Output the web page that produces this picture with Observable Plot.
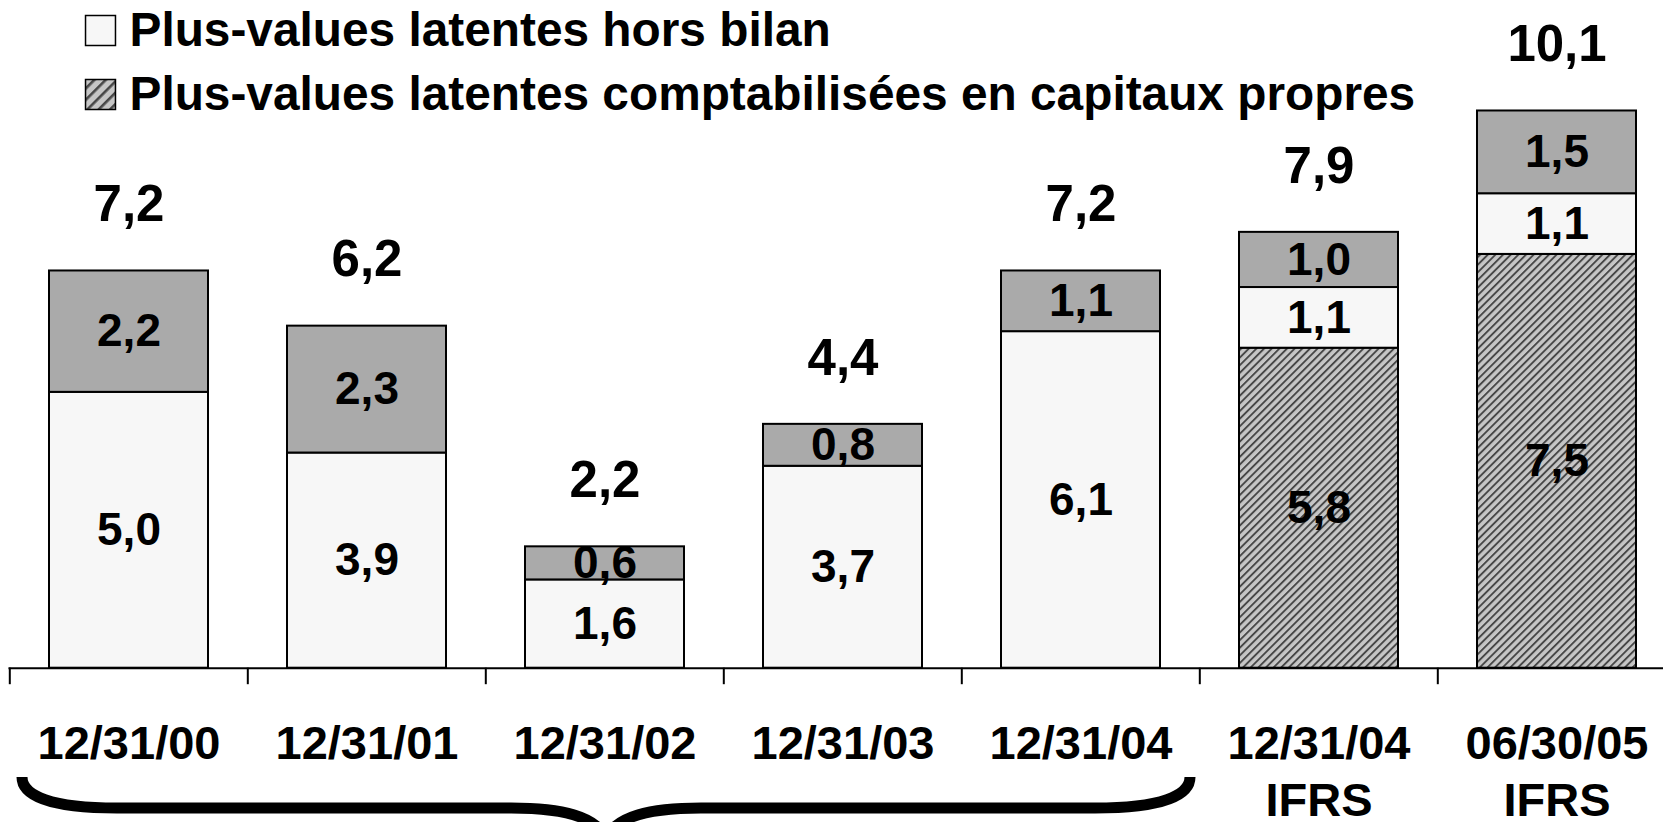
<!DOCTYPE html>
<html>
<head>
<meta charset="utf-8">
<script src="https://cdn.jsdelivr.net/npm/d3@7"></script>
<script src="https://cdn.jsdelivr.net/npm/@observablehq/plot@0.6"></script>
<style>
  html, body { margin: 0; padding: 0; background: #fff; overflow: hidden; }
  #chart svg { display: block; }
</style>
</head>
<body>
<div id="chart"></div>
<script>
// ---- data (values in billions) ----
const categories = ["12/31/00", "12/31/01", "12/31/02", "12/31/03", "12/31/04", "12/31/04\nIFRS", "06/30/05\nIFRS"];
const comptabilisees = [0, 0, 0, 0, 0, 5.8, 7.5];          // hatched, bottom
const horsBilan      = [5.0, 3.9, 1.6, 3.66, 6.1, 1.1, 1.1]; // light, middle
const autres         = [2.2, 2.3, 0.6, 0.76, 1.1, 1.0, 1.5]; // grey, top
const seriesNames = ["comptabilisees", "horsBilan", "autres"];
const legendLabels = ["Plus-values latentes hors bilan", "Plus-values latentes comptabilisées en capitaux propres"];
const bracedCount = 5; // first five dates (French GAAP) under the brace

// ---- derived tables ----
const seriesValues = {comptabilisees, horsBilan, autres};
const rows = [];
const totals = [];
categories.forEach((cat, i) => {
  let acc = 0;
  for (const s of seriesNames) {
    const v = seriesValues[s][i];
    if (v > 0) rows.push({cat, series: s, value: v, y1: acc, y2: acc + v});
    acc += v;
  }
  totals.push({cat, total: acc});
});
const fmt = v => d3.format(".1f")(v).replace(".", ",");

// ---- layout ----
const W = 1663, H = 822;
const axisY = 667.7;
const pxPerUnit = 55.17;
const xRange = [8.5, 1677.3];
const step = (xRange[1] - xRange[0]) / categories.length;
const font = "'Liberation Sans', Arial, Helvetica, sans-serif";
const fills = {comptabilisees: "url(#hatch)", horsBilan: "#f7f7f7", autres: "#aaaaaa"};

const marks = [];
for (const s of seriesNames) {
  marks.push(Plot.rectY(rows.filter(d => d.series === s), {
    x: "cat", y1: "y1", y2: "y2", fill: fills[s], stroke: "#000", strokeWidth: 2
  }));
}
marks.push(
  Plot.ruleY([0], {stroke: "#000", strokeWidth: 2}),
  Plot.ruleX(categories, {x: d => d, dx: -step / 2, y1: 0, y2: -16.5 / pxPerUnit, stroke: "#000", strokeWidth: 2}),
  Plot.text(rows, {
    x: "cat", y: d => (d.y1 + d.y2) / 2, text: d => fmt(d.value),
    fontSize: 46, fontWeight: "bold", fill: "#000", lineAnchor: "middle"
  }),
  Plot.text(totals, {
    x: "cat", y: "total", text: d => fmt(d.total), dy: -66,
    fontSize: 51, fontWeight: "bold", fill: "#000", lineAnchor: "middle"
  }),
  Plot.text(categories, {
    x: d => d, text: d => d, frameAnchor: "bottom", lineAnchor: "top", dy: 50,
    lineHeight: 1.22, fontSize: 47, fontWeight: "bold", fill: "#000"
  }),
  // legend
  Plot.dot([legendLabels[0]], {frameAnchor: "top-left", dx: 100 - 8.5, dy: 30, symbol: "square", r: 16.9,
    fill: fills.horsBilan, stroke: "#000", strokeWidth: 1.5}),
  Plot.dot([legendLabels[1]], {frameAnchor: "top-left", dx: 100 - 8.5, dy: 94, symbol: "square", r: 16.9,
    fill: "url(#hatchBig)", stroke: "#000", strokeWidth: 1.5}),
  Plot.text([legendLabels[0]], {frameAnchor: "top-left", text: d => d, dx: 129 - 8.5, dy: 45,
    lineAnchor: "bottom", textAnchor: "start", fontSize: 47.8, fontWeight: "bold", fill: "#000"}),
  Plot.text([legendLabels[1]], {frameAnchor: "top-left", text: d => d, dx: 129 - 8.5, dy: 109,
    lineAnchor: "bottom", textAnchor: "start", fontSize: 47.8, fontWeight: "bold", fill: "#000"})
);

const chart = Plot.plot({
  width: W,
  height: H,
  marginTop: 0,
  marginBottom: H - axisY,
  marginLeft: xRange[0],
  marginRight: 0,
  style: {fontFamily: font, background: "#fff", color: "#000"},
  x: {type: "band", domain: categories, range: xRange, paddingInner: 0.33, paddingOuter: 0.165, axis: null},
  y: {domain: [0, axisY / pxPerUnit], axis: null},
  marks
});

// hatch pattern definitions
const ns = "http://www.w3.org/2000/svg";
const defs = document.createElementNS(ns, "defs");
defs.innerHTML = `<pattern id="hatch" patternUnits="userSpaceOnUse" width="5.4" height="5.4" patternTransform="rotate(45)">
  <rect width="5.4" height="5.4" fill="#c6c6c6"></rect>
  <rect x="0" y="0" width="1.9" height="5.4" fill="#474747"></rect>
</pattern>
<pattern id="hatchBig" patternUnits="userSpaceOnUse" width="8" height="8" patternTransform="rotate(45)">
  <rect width="8" height="8" fill="#c6c6c6"></rect>
  <rect x="0" y="0" width="2.6" height="8" fill="#474747"></rect>
</pattern>`;
chart.insertBefore(defs, chart.firstChild);

// brace under the first five dates, placed with the x scale
const xs = chart.scale("x");
const bandStart = c => (xs.apply ? xs.apply(c) : xRange[0] + step * (categories.indexOf(c) + 0.165));
const bw = xs.bandwidth;
const bx0 = bandStart(categories[0]) - 27;
const bx1 = bandStart(categories[bracedCount - 1]) + bw + 30;
const bm = (bx0 + bx1) / 2;
const yTop = 777, yLine = 808, yTip = 840;
const path = document.createElementNS(ns, "path");
path.setAttribute("d",
  `M${bx0},${yTop} C${bx0},${yLine - 12} ${bx0 + 30},${yLine} ${bx0 + 95},${yLine}` +
  ` L${bm - 95},${yLine} C${bm - 45},${yLine} ${bm - 8},${yLine + 8} ${bm},${yTip}` +
  ` M${bm},${yTip} C${bm + 8},${yLine + 8} ${bm + 45},${yLine} ${bm + 95},${yLine}` +
  ` L${bx1 - 95},${yLine} C${bx1 - 30},${yLine} ${bx1},${yLine - 12} ${bx1},${yTop}`);
path.setAttribute("fill", "none");
path.setAttribute("stroke", "#000");
path.setAttribute("stroke-width", "11");
chart.appendChild(path);

document.getElementById("chart").appendChild(chart);
</script>
</body>
</html>
